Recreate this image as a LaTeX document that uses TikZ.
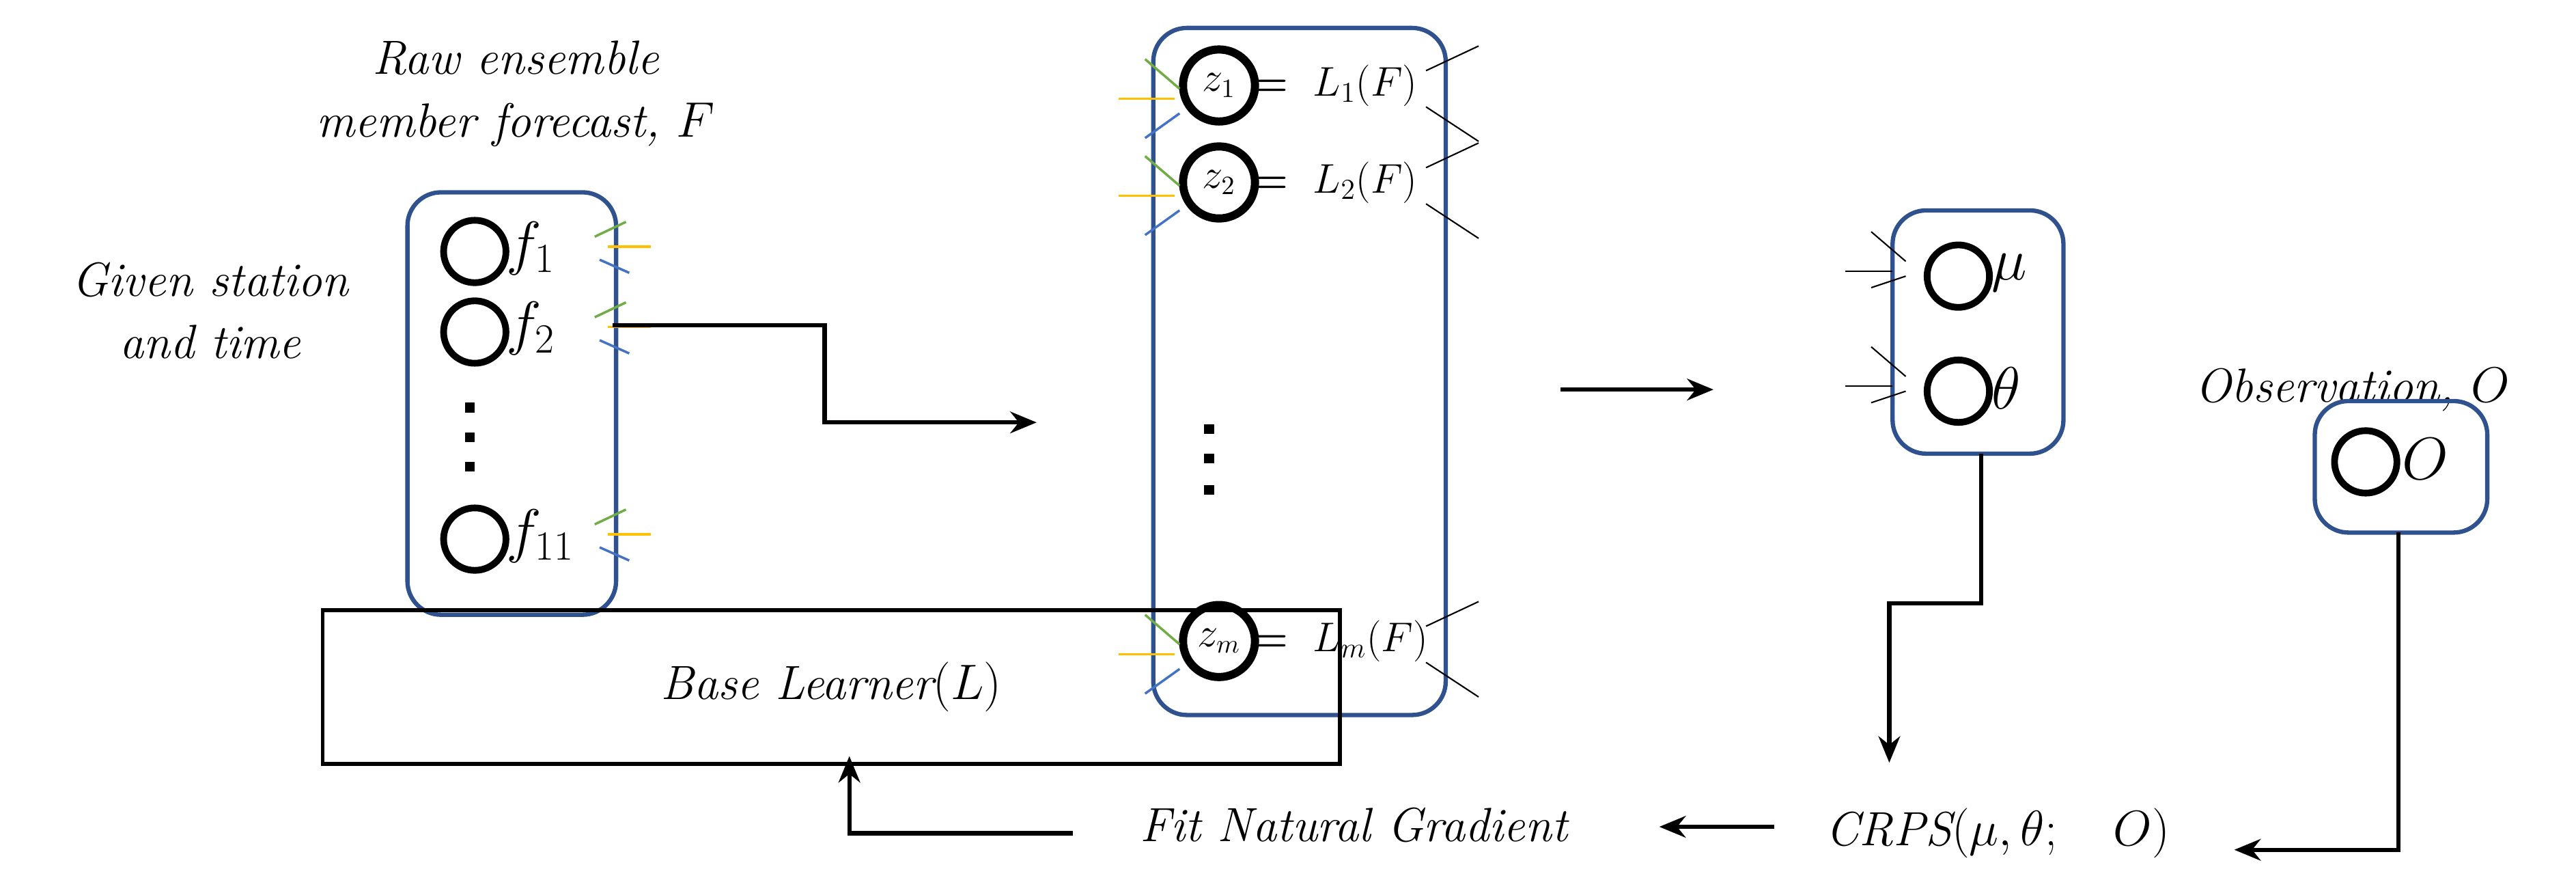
\documentclass[tikz,border=0pt]{standalone}
\usepackage{amsmath}
\usetikzlibrary{arrows.meta}
\definecolor{bbox}{RGB}{47,82,143}
\definecolor{tg}{RGB}{112,173,71}
\definecolor{ty}{RGB}{255,192,0}
\definecolor{tb}{RGB}{68,114,196}
\begin{document}
\begin{tikzpicture}[x=0.024056cm,y=-0.024056cm,
  grp/.style={draw=bbox,line width=1.8pt,rounded corners=14pt},
  cir/.style={draw,circle,line width=2.8pt,minimum size=26pt,inner sep=0pt},
  lbl/.style={font=\fontsize{20}{26}\selectfont\itshape,align=center},
  big/.style={anchor=west,font=\fontsize{26}{28}\selectfont,inner sep=0pt},
  zl/.style={font=\fontsize{16}{18}\selectfont,inner sep=0pt},
  arr/.style={line width=1.8pt,-{Stealth[length=11pt,width=9pt]}},
  tk/.style={line width=1pt},
  bt/.style={line width=0.6pt}]
\useasboundingbox (0,0) rectangle (1568,542);
% texts
\node[lbl] (raw) at (314,57) {Raw ensemble\\member forecast, $F$};
\node[lbl] (gst) at (128,189) {Given station\\and time};
\node[lbl] (obs) at (1432,237) {Observation, $O$};
% box 1
\draw[grp] (248,117) rectangle (375,374);
\node[cir] (f1) at (289,153) {}; \node[big] at (308,151) {$f_1$};
\node[cir] (f2) at (289,202) {}; \node[big] at (308,200) {$f_2$};
\node[cir] (f11) at (289,328) {}; \node[big] at (308,326) {$f_{11}$};
\foreach \yy in {248,266,284} \fill (283,\yy-3) rectangle (289,\yy+3);
\foreach \yy in {153,202,328}{
  \draw[tg,tk] (362,\yy-9) -- (381,\yy-18);
  \draw[ty,tk] (370,\yy-3) -- (396,\yy-3);
  \draw[tb,tk] (365,\yy+5) -- (383,\yy+13);}
% box 2
\draw[grp] (702,17) rectangle (880,435);
\foreach \n/\yy in {z1/52,z2/111,zm/390}
  \node[cir,line width=3.4pt,minimum size=30pt] (\n) at (742,\yy) {};
\node[zl] at (z1) {$z_1$};
\node[zl] at (z2) {$z_2$};
\node[zl] at (zm) {$z_m$};
\node[anchor=west,font=\fontsize{18}{20}\selectfont,inner sep=0pt] at (762,52) {$\boldsymbol{=}\ L_1(F)$};
\node[anchor=west,font=\fontsize{18}{20}\selectfont,inner sep=0pt] at (762,111) {$\boldsymbol{=}\ L_2(F)$};
\node[anchor=west,font=\fontsize{18}{20}\selectfont,inner sep=0pt] at (762,390) {$\boldsymbol{=}\ L_m(F)$};
\foreach \yy in {261,279,298} \fill (733,\yy-3) rectangle (739,\yy+3);
\foreach \yy in {52,111,390}{
  \draw[tg,tk] (697,\yy-16) -- (718,\yy+2);
  \draw[ty,tk] (681,\yy+8) -- (715,\yy+8);
  \draw[tb,tk] (697,\yy+32) -- (718,\yy+17);
  \draw[bt] (868,\yy-9) -- (900,\yy-24);
  \draw[bt] (868,\yy+13) -- (900,\yy+34);}
% box 3
\draw[grp] (1152,128) rectangle (1256,276);
\node[cir] (mu) at (1192,168) {}; \node[big] at (1212,166) {$\mu$};
\node[cir] (th) at (1192,238) {}; \node[big] at (1212,236) {$\theta$};
\foreach \yy in {168,238}{
  \draw[bt] (1123,\yy-3) -- (1152,\yy-3);
  \draw[bt] (1139,\yy-27) -- (1160,\yy-9);
  \draw[bt] (1139,\yy+7) -- (1160,\yy);}
% box 4
\draw[grp] (1409,244) rectangle (1514,324);
\node[cir] (o) at (1440,281) {}; \node[big] at (1462,279) {$O$};
\coordinate (b3) at (1206,276);
\coordinate (b4) at (1460,324);
% base learner
\node[draw,line width=1.6pt,minimum width=265\pgflinewidth,minimum height=40\pgflinewidth,inner sep=3pt,font=\fontsize{20}{24}\selectfont\itshape] (bl) at (506,418) {Base Learner$(L)$};
\node[lbl] (fng) at (824,502) {Fit Natural Gradient};
\node[lbl] (crps) at (1216,507) {CRPS$(\mu,\theta;\quad O)$};
% connectors
\coordinate (a1) at (373,198);
\coordinate (a2) at (631,257);
\draw[arr] (a1) -- (502,198) -- (502,257) -- (a2);
\coordinate (m1) at (950,237); \coordinate (m2) at (1043,237);
\draw[arr] (m1) -- (m2);
\draw[arr] (b3) -- (1206,367) -- (1150,367) -- (1150,464);
\draw[arr] (b4) -- (1460,517) -- (1360,517);
\draw[arr] (1080,503) -- (1010,503);
\coordinate (g1) at (653,507);
\draw[arr] (g1) -- (517,507) -- (517,460);
\end{tikzpicture}
\end{document}
